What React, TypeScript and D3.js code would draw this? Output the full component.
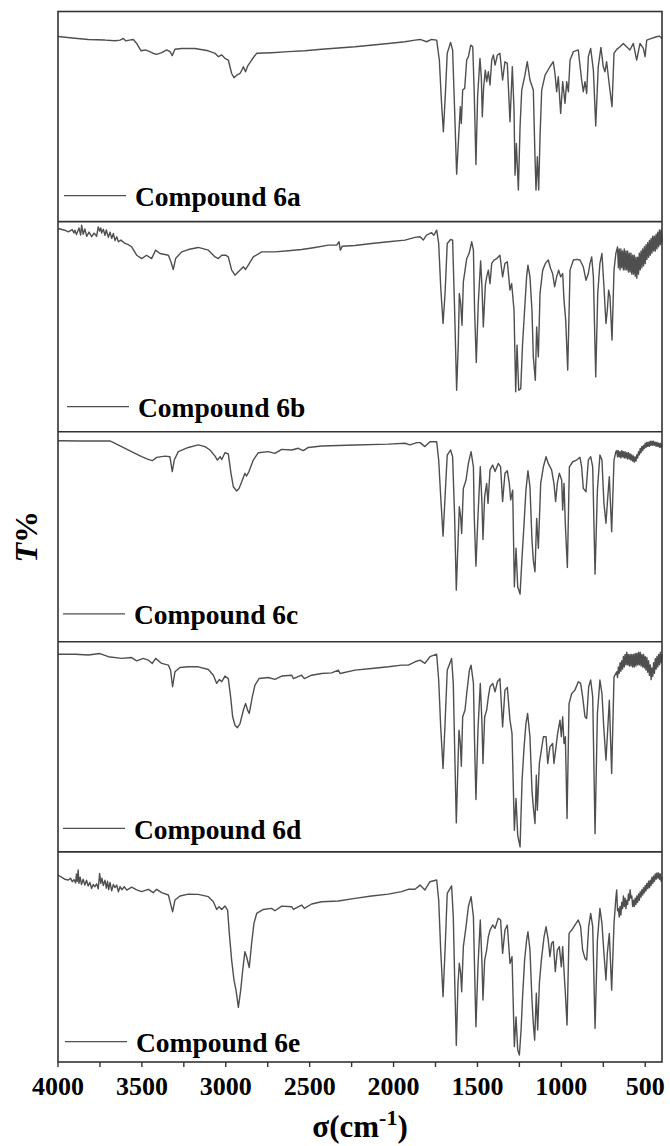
import { line, scaleLinear } from "d3";

type Point = [number, number];

// x axis
const MAJOR_TICKS = [4000, 3500, 3000, 2500, 2000, 1500, 1000, 500];
const MINOR_TICKS = [3750, 3250, 2750, 2250, 1750, 1250, 750];
const COMPOUNDS = ["Compound 6a", "Compound 6b", "Compound 6c", "Compound 6d", "Compound 6e"];

// [wavenumber cm-1, T% inside its own panel]
const spectrum6a: Point[] = [
  [4000, 88.1], [3900, 87.3], [3819, 86.7], [3720, 86.4], [3660, 86.1], [3630, 86.4], [3611, 87.2], [3595, 86.0],
  [3575, 86.4], [3551, 86.7], [3531, 84.8], [3505, 81.3], [3480, 81.7], [3452, 80.9], [3430, 80.0], [3412, 79.6],
  [3382, 80.4], [3352, 81.7], [3332, 80.9], [3319, 79.0], [3303, 82.0], [3263, 82.4], [3184, 82.4], [3104, 81.3],
  [3064, 80.1], [3044, 78.5], [3024, 79.3], [3005, 77.7], [2985, 76.9], [2965, 70.5], [2951, 68.5], [2935, 69.7],
  [2915, 70.5], [2895, 73.7], [2882, 71.3], [2870, 74.0], [2846, 76.9], [2816, 80.1], [2727, 80.4], [2627, 80.9],
  [2528, 81.3], [2429, 82.0], [2230, 83.2], [2031, 84.8], [1932, 85.6], [1872, 86.4], [1842, 86.7], [1803, 85.6],
  [1773, 86.7], [1743, 86.4], [1727, 76.9], [1715, 57.8], [1703, 42.8], [1691, 61.0], [1680, 80.1], [1660, 85.3],
  [1648, 81.7], [1636, 53.1], [1624, 22.6], [1612, 40.4], [1602, 54.7], [1596, 46.7], [1588, 62.6], [1576, 63.4],
  [1564, 76.9], [1554, 78.5], [1540, 84.0], [1528, 83.2], [1519, 61.0], [1509, 27.2], [1499, 59.4], [1485, 77.7],
  [1477, 68.9], [1471, 49.9], [1463, 64.2], [1453, 72.1], [1445, 66.6], [1435, 71.3], [1425, 65.0], [1415, 76.9],
  [1405, 79.3], [1395, 74.5], [1381, 79.3], [1366, 80.1], [1350, 67.4], [1336, 76.1], [1322, 75.3], [1306, 47.5],
  [1292, 73.7], [1282, 53.1], [1276, 22.1], [1268, 37.2], [1256, 15.0], [1246, 45.1], [1236, 62.6], [1217, 69.7],
  [1203, 76.1], [1187, 67.4], [1167, 62.6], [1157, 30.9], [1151, 15.0], [1143, 30.9], [1135, 15.0], [1127, 40.4],
  [1117, 62.6], [1097, 69.7], [1068, 73.7], [1048, 76.1], [1038, 70.5], [1028, 61.8], [1018, 69.0], [1004, 51.5],
  [992, 66.6], [978, 56.3], [968, 66.6], [958, 61.8], [948, 76.9], [928, 80.9], [899, 81.7], [879, 67.4],
  [869, 61.8], [859, 66.6], [849, 61.0], [839, 78.5], [825, 82.4], [809, 72.1], [795, 45.5], [780, 73.7],
  [764, 82.9], [750, 73.7], [740, 71.3], [730, 76.1], [714, 65.0], [698, 54.7], [686, 80.1], [670, 82.0],
  [650, 83.2], [631, 84.8], [611, 83.2], [591, 81.7], [571, 84.8], [551, 76.9], [531, 84.8], [511, 82.4],
  [501, 78.5], [491, 86.4], [462, 87.2], [432, 88.0], [416, 88.3], [400, 87.2],
];

const spectrum6b: Point[] = [
  [4000, 96.7], [3960, 95.9], [3938, 95.1], [3915, 96.2], [3905, 94.6], [3899, 95.9], [3890, 93.8], [3875, 97.0],
  [3865, 93.6], [3859, 98.3], [3850, 94.0], [3840, 96.5], [3829, 93.0], [3815, 95.0], [3799, 92.8], [3785, 94.5],
  [3770, 93.0], [3760, 97.5], [3752, 95.5], [3745, 97.0], [3740, 94.6], [3730, 96.4], [3720, 93.5], [3712, 96.0],
  [3700, 92.5], [3690, 95.0], [3680, 92.0], [3670, 94.3], [3660, 91.0], [3650, 92.8], [3640, 90.4], [3625, 91.2],
  [3601, 89.6], [3580, 89.0], [3561, 88.0], [3531, 84.0], [3501, 82.4], [3472, 84.0], [3442, 82.4], [3418, 86.4],
  [3392, 84.8], [3342, 84.0], [3327, 80.9], [3313, 77.2], [3299, 82.4], [3263, 85.6], [3223, 86.7], [3164, 87.7],
  [3104, 86.4], [3064, 83.2], [3044, 82.4], [3024, 84.0], [3001, 84.0], [2985, 83.2], [2965, 76.9], [2945, 74.5],
  [2925, 76.1], [2895, 78.5], [2882, 77.2], [2866, 79.3], [2836, 83.2], [2786, 85.6], [2707, 85.6], [2627, 86.1],
  [2548, 86.7], [2468, 87.7], [2389, 88.8], [2339, 88.8], [2325, 90.4], [2317, 86.4], [2305, 88.3], [2230, 88.6],
  [2131, 89.6], [2031, 90.4], [1932, 91.2], [1872, 92.5], [1842, 92.8], [1823, 91.2], [1803, 93.6], [1773, 94.7],
  [1760, 93.5], [1743, 95.9], [1731, 89.6], [1719, 68.9], [1705, 51.5], [1693, 65.8], [1680, 89.6], [1660, 91.5],
  [1648, 91.2], [1636, 57.8], [1624, 19.7], [1614, 42.0], [1608, 65.8], [1600, 61.0], [1592, 50.7], [1584, 71.3],
  [1564, 82.4], [1550, 84.8], [1534, 90.4], [1524, 86.4], [1517, 57.8], [1507, 32.9], [1495, 61.0], [1481, 81.3],
  [1473, 69.0], [1465, 49.9], [1453, 69.7], [1445, 73.7], [1435, 76.9], [1425, 70.5], [1415, 80.1], [1401, 81.7],
  [1385, 82.4], [1366, 84.0], [1350, 73.7], [1336, 80.1], [1322, 80.9], [1306, 67.4], [1296, 70.5], [1282, 57.8],
  [1272, 19.0], [1264, 41.2], [1254, 19.7], [1242, 20.5], [1231, 42.0], [1219, 57.8], [1207, 73.7], [1199, 79.3],
  [1187, 73.7], [1175, 57.8], [1167, 35.6], [1155, 24.5], [1147, 49.9], [1137, 35.6], [1127, 65.8], [1111, 76.9],
  [1095, 80.1], [1078, 81.7], [1064, 77.7], [1052, 75.3], [1040, 69.0], [1028, 73.7], [1016, 76.9], [1004, 73.7],
  [992, 75.3], [984, 62.6], [974, 53.1], [962, 29.3], [948, 76.9], [928, 81.7], [909, 82.0], [889, 81.7],
  [869, 78.5], [853, 72.1], [839, 75.3], [829, 80.1], [819, 83.2], [809, 73.7], [795, 26.1], [783, 65.8],
  [770, 80.1], [758, 84.8], [746, 69.0], [734, 51.5], [726, 57.8], [718, 67.4], [710, 64.2], [698, 43.6],
  [686, 76.9], [675, 84.8], [665, 88], [660, 78], [655, 87], [650, 77], [645, 87], [640, 78], [635, 86], [630, 77],
  [625, 87], [620, 77], [615, 86], [610, 77], [605, 86], [600, 76], [595, 85], [590, 76], [585, 85], [580, 75],
  [575, 84], [570, 75], [565, 84], [560, 74], [555, 83], [550, 73], [545, 83], [540, 75], [535, 85], [530, 77],
  [525, 86], [520, 78], [515, 87], [510, 79], [505, 88], [500, 80], [495, 89], [490, 82], [485, 90], [480, 83],
  [475, 91], [470, 84], [465, 92], [460, 85], [455, 93], [450, 86], [445, 93], [440, 86], [435, 94], [430, 87],
  [425, 95], [420, 88], [415, 96], [410, 89], [405, 96], [400, 90],
];

const spectrum6c: Point[] = [
  [4000, 95.7], [3859, 95.6], [3690, 95.6], [3621, 92.9], [3541, 89.7], [3501, 88.1], [3462, 86.8], [3438, 86.2],
  [3412, 87.8], [3362, 88.4], [3333, 88.1], [3319, 81.0], [3307, 86.5], [3283, 90.5], [3223, 92.5], [3164, 93.7],
  [3124, 92.9], [3094, 91.3], [3064, 88.4], [3050, 86.5], [3034, 88.1], [3024, 86.8], [3005, 90.0], [2985, 89.4],
  [2969, 80.2], [2955, 73.8], [2935, 71.8], [2921, 73.0], [2905, 76.2], [2886, 80.2], [2876, 78.9], [2862, 81.0],
  [2836, 86.5], [2806, 90.0], [2747, 90.5], [2707, 89.7], [2667, 91.6], [2607, 91.3], [2568, 92.1], [2538, 91.0],
  [2508, 92.5], [2429, 93.2], [2230, 93.7], [2031, 94.1], [1932, 94.5], [1902, 93.7], [1862, 94.8], [1842, 94.8],
  [1813, 92.9], [1783, 95.2], [1743, 95.2], [1731, 86.5], [1719, 69.1], [1705, 50.3], [1693, 69.1], [1680, 88.9],
  [1660, 91.3], [1648, 88.1], [1636, 59.5], [1626, 24.6], [1616, 46.8], [1608, 64.3], [1600, 59.5], [1594, 51.6],
  [1584, 73.0], [1568, 77.0], [1554, 84.9], [1538, 90.5], [1524, 83.3], [1519, 59.5], [1509, 36.0], [1497, 59.5],
  [1483, 83.3], [1473, 65.9], [1467, 48.7], [1457, 69.1], [1445, 75.4], [1437, 65.9], [1425, 81.8], [1409, 84.1],
  [1395, 81.0], [1376, 84.9], [1362, 83.3], [1350, 66.7], [1336, 80.2], [1322, 81.4], [1310, 75.4], [1302, 67.5],
  [1290, 72.2], [1280, 26.2], [1270, 44.5], [1260, 26.2], [1246, 22.7], [1234, 40.5], [1222, 56.4], [1211, 72.2],
  [1199, 81.4], [1187, 73.8], [1175, 48.4], [1167, 38.9], [1157, 33.3], [1147, 58.7], [1137, 44.5], [1123, 75.4],
  [1107, 83.3], [1091, 88.1], [1078, 84.9], [1058, 81.8], [1044, 75.4], [1034, 66.7], [1024, 75.4], [1012, 80.2],
  [998, 77.0], [992, 62.7], [984, 75.4], [976, 55.6], [964, 35.4], [952, 83.3], [932, 85.7], [909, 86.5],
  [889, 87.8], [879, 83.3], [869, 73.0], [853, 71.4], [839, 86.5], [825, 88.1], [813, 83.3], [799, 32.2],
  [785, 72.2], [770, 88.9], [758, 86.5], [746, 65.9], [734, 56.4], [726, 65.9], [714, 78.6], [700, 52.4],
  [686, 86.5], [675, 90.5], [670, 91], [665, 88], [660, 91], [655, 88], [650, 90.5], [645, 87.5], [640, 91],
  [635, 88], [630, 90.5], [625, 87.5], [620, 90.5], [615, 87.5], [610, 90], [605, 87], [600, 90], [595, 87],
  [590, 89.5], [585, 86.5], [580, 89], [575, 86], [570, 88.5], [565, 85.5], [560, 88], [555, 86], [550, 89],
  [545, 87.5], [540, 90.5], [535, 89], [530, 92], [525, 90], [520, 93], [515, 91], [510, 93.5], [505, 92],
  [500, 94.5], [495, 92.5], [490, 95], [485, 93], [480, 95], [475, 93], [470, 95.5], [465, 93.5], [460, 95.5],
  [455, 93.5], [450, 95.5], [445, 93.5], [440, 95], [435, 93], [430, 95], [425, 93], [420, 94.5], [415, 92.5],
  [410, 94.5], [405, 92.5], [400, 94],
];

const spectrum6d: Point[] = [
  [4000, 94.1], [3899, 94.1], [3819, 93.7], [3750, 94.4], [3700, 92.9], [3621, 92.1], [3561, 92.5], [3531, 90.9],
  [3491, 92.1], [3462, 91.3], [3438, 89.7], [3418, 92.1], [3382, 89.7], [3342, 88.9], [3329, 86.5], [3317, 78.6],
  [3303, 85.7], [3273, 87.8], [3223, 88.1], [3164, 88.1], [3104, 86.8], [3074, 84.1], [3054, 80.2], [3038, 82.1],
  [3024, 81.0], [3005, 83.7], [2985, 82.5], [2971, 73.8], [2959, 64.3], [2945, 60.3], [2931, 59.1], [2915, 61.1],
  [2895, 67.5], [2882, 70.6], [2870, 67.5], [2860, 65.9], [2842, 73.8], [2826, 79.4], [2802, 82.5], [2747, 83.0],
  [2707, 82.1], [2667, 83.7], [2607, 84.1], [2597, 82.5], [2548, 84.1], [2532, 82.5], [2488, 84.1], [2429, 84.9],
  [2369, 85.2], [2329, 86.5], [2319, 84.9], [2230, 86.5], [2131, 87.3], [2031, 88.1], [1952, 88.9], [1912, 88.9],
  [1872, 90.5], [1842, 91.3], [1813, 89.7], [1783, 92.9], [1743, 94.1], [1731, 81.8], [1719, 59.5], [1705, 39.7],
  [1693, 61.1], [1680, 86.5], [1654, 92.1], [1644, 80.2], [1636, 50.0], [1626, 13.8], [1616, 42.1], [1610, 57.9],
  [1602, 51.6], [1596, 40.8], [1588, 64.3], [1574, 67.5], [1564, 75.4], [1548, 86.5], [1538, 88.9], [1524, 80.2],
  [1517, 51.6], [1509, 24.9], [1497, 57.9], [1483, 80.2], [1473, 61.1], [1467, 42.1], [1457, 64.3], [1445, 67.5],
  [1435, 73.8], [1425, 78.6], [1409, 80.2], [1395, 76.2], [1381, 81.0], [1366, 82.5], [1350, 59.5], [1336, 77.0],
  [1322, 78.3], [1306, 62.7], [1294, 56.4], [1280, 10.3], [1270, 25.4], [1260, 7.9], [1246, 2.4], [1234, 34.1],
  [1222, 50.0], [1211, 61.1], [1201, 65.9], [1187, 54.8], [1175, 29.4], [1167, 21.4], [1157, 13.5], [1149, 36.5],
  [1143, 19.8], [1131, 42.1], [1119, 48.4], [1107, 54.8], [1091, 54.8], [1081, 42.1], [1068, 50.0], [1052, 51.6],
  [1044, 42.1], [1034, 48.4], [1022, 56.4], [1008, 62.7], [1000, 54.8], [992, 64.3], [984, 51.6], [976, 54.8],
  [966, 15.9], [954, 70.6], [938, 75.4], [919, 77.0], [899, 81.0], [885, 80.2], [873, 73.8], [859, 64.3],
  [849, 63.5], [837, 78.6], [825, 81.8], [813, 73.8], [799, 8.7], [785, 65.9], [770, 81.8], [758, 75.4],
  [746, 58.0], [734, 43.7], [726, 54.8], [714, 72.2], [700, 37.3], [686, 83.3], [670, 85.7], [665, 83], [660, 88],
  [655, 85], [650, 90], [645, 86], [640, 91], [635, 87], [630, 93], [625, 88], [620, 94], [615, 89], [610, 95],
  [605, 89], [600, 94], [595, 88.5], [590, 94], [585, 88.5], [580, 94], [575, 88], [570, 94], [565, 88],
  [560, 94.5], [555, 88.5], [550, 94.5], [545, 89], [540, 95], [535, 89], [530, 95], [525, 88.5], [520, 94],
  [515, 88], [510, 94], [505, 87.5], [500, 93], [495, 86.5], [490, 92.5], [485, 85.5], [480, 91], [475, 84],
  [470, 89], [465, 82], [460, 87.5], [455, 83.5], [450, 90], [445, 85], [440, 92], [435, 87], [430, 93],
  [425, 88], [420, 94], [415, 89], [410, 95], [405, 90], [400, 94],
];

const spectrum6e: Point[] = [
  [4000, 89.0], [3960, 87.0], [3938, 86.6], [3925, 87.5], [3915, 85.8], [3905, 86.8], [3895, 85.2], [3890, 89.5],
  [3885, 86.0], [3880, 91.4], [3875, 85.0], [3868, 88.0], [3860, 84.5], [3850, 87.0], [3840, 84.2], [3830, 86.5],
  [3820, 83.8], [3810, 85.5], [3800, 82.6], [3790, 84.5], [3780, 83.4], [3770, 84.8], [3760, 82.4], [3752, 89.8],
  [3745, 85.0], [3738, 87.5], [3730, 84.0], [3720, 86.5], [3712, 82.8], [3705, 86.0], [3698, 82.0], [3690, 85.5],
  [3680, 81.5], [3670, 84.5], [3660, 83.0], [3650, 84.2], [3640, 81.0], [3630, 83.5], [3620, 82.0], [3605, 83.4],
  [3590, 81.8], [3561, 83.2], [3531, 81.9], [3501, 81.1], [3462, 82.2], [3432, 80.6], [3412, 82.2], [3382, 80.6],
  [3342, 79.5], [3327, 74.7], [3317, 71.5], [3303, 77.1], [3273, 79.0], [3223, 79.9], [3164, 79.8], [3104, 78.7],
  [3074, 76.3], [3054, 72.6], [3040, 73.9], [3024, 72.6], [3005, 74.2], [2989, 72.3], [2979, 61.2], [2965, 48.5],
  [2951, 39.0], [2939, 34.2], [2925, 26.0], [2911, 34.2], [2899, 43.8], [2886, 52.5], [2876, 50.1], [2860, 45.0],
  [2846, 56.5], [2832, 66.0], [2816, 70.7], [2776, 72.6], [2727, 73.1], [2707, 72.0], [2667, 74.2], [2607, 73.9],
  [2597, 72.6], [2548, 74.7], [2532, 73.1], [2488, 75.2], [2429, 76.3], [2329, 76.6], [2230, 77.9], [2131, 79.0],
  [2031, 79.9], [1952, 81.1], [1912, 82.2], [1872, 82.2], [1842, 84.2], [1813, 81.9], [1783, 85.8], [1743, 86.6],
  [1731, 77.1], [1719, 53.3], [1705, 31.1], [1693, 53.3], [1680, 80.3], [1654, 83.8], [1644, 69.2], [1636, 40.6],
  [1626, 8.0], [1616, 37.4], [1608, 47.0], [1600, 42.2], [1594, 33.4], [1584, 54.9], [1568, 64.4], [1554, 73.9],
  [1538, 78.7], [1524, 69.2], [1517, 43.8], [1509, 16.8], [1497, 45.3], [1483, 67.6], [1473, 46.9], [1467, 29.5],
  [1457, 48.5], [1445, 53.3], [1435, 59.6], [1425, 62.8], [1409, 65.2], [1395, 63.6], [1376, 68.4], [1362, 67.6],
  [1350, 51.7], [1336, 62.8], [1322, 65.2], [1306, 46.9], [1294, 50.1], [1280, 7.3], [1270, 21.5], [1260, 5.7],
  [1250, 3.3], [1240, 15.2], [1231, 31.1], [1219, 48.5], [1207, 58.0], [1199, 62.0], [1187, 53.3], [1175, 29.5],
  [1167, 18.4], [1159, 10.4], [1149, 32.7], [1141, 15.2], [1131, 37.4], [1119, 48.5], [1103, 59.6], [1091, 64.4],
  [1078, 58.0], [1068, 50.1], [1058, 56.5], [1048, 57.3], [1036, 43.0], [1024, 53.3], [1012, 54.9], [1000, 45.3],
  [992, 54.9], [982, 40.6], [976, 32.7], [966, 17.6], [954, 61.2], [938, 62.8], [919, 65.2], [899, 67.6],
  [885, 64.4], [873, 53.3], [859, 49.3], [849, 48.5], [837, 64.4], [825, 70.7], [813, 64.4], [799, 16.0],
  [785, 58.0], [770, 73.1], [758, 66.0], [746, 51.7], [734, 39.0], [726, 51.7], [714, 61.2], [700, 34.2],
  [686, 66.0], [675, 78.0], [670, 81.9], [665, 72.0], [660, 73], [655, 69], [650, 74], [645, 70], [640, 76],
  [635, 73], [630, 79], [625, 74], [620, 78], [615, 73], [610, 77], [605, 75], [600, 80], [595, 77], [590, 82],
  [585, 78], [580, 79], [575, 74], [570, 77], [565, 74], [560, 78], [555, 75], [550, 79], [545, 76], [540, 80],
  [535, 77], [530, 81], [525, 78.5], [520, 82], [515, 79.5], [510, 83], [505, 80.5], [500, 84], [495, 81.5],
  [490, 85], [485, 82.5], [480, 86], [475, 83], [470, 86.5], [465, 84], [460, 88], [455, 85], [450, 88.5],
  [445, 86], [440, 89.5], [435, 87], [430, 90], [425, 87.5], [420, 90], [415, 87], [410, 89.5], [405, 86],
  [400, 88],
];

const SPECTRA = [spectrum6a, spectrum6b, spectrum6c, spectrum6d, spectrum6e];

const WIDTH = 670;
const HEIGHT = 1146;
const PLOT_LEFT = 58;
const PLOT_RIGHT = 662;
const PLOT_TOP = 11.5;
const PANEL_HEIGHT = 210.1;
const FRAME_COLOR = "#333333";
const LINE_COLOR = "#4f4f4f";
const SERIF = "'Liberation Serif', 'Times New Roman', serif";

// legend placement differs a little per panel in the source figure
const LEGEND_LIFT = [26, 25, 28, 23.6, 20.3];
const LEGEND_SHIFT = [0, 3, -1, -1, 1];

export default function App() {
  const xScale = scaleLinear().domain([4000, 400]).range([PLOT_LEFT, PLOT_RIGHT]);
  const plotBottom = PLOT_TOP + PANEL_HEIGHT * SPECTRA.length;

  return (
    <svg
      width={WIDTH}
      height={HEIGHT}
      viewBox={`0 0 ${WIDTH} ${HEIGHT}`}
      style={{ position: "absolute", left: 0, top: 0, background: "#fff" }}
    >
      {SPECTRA.map((points, index) => {
        const top = PLOT_TOP + PANEL_HEIGHT * index;
        const bottom = top + PANEL_HEIGHT;
        const yScale = scaleLinear().domain([0, 100]).range([bottom, top]);
        const path = line<Point>()
          .x((point) => xScale(point[0]))
          .y((point) => yScale(point[1]))(points);
        const legendY = bottom - LEGEND_LIFT[index];
        const legendX = PLOT_LEFT + 6 + LEGEND_SHIFT[index];

        return (
          <g key={COMPOUNDS[index]}>
            {path ? (
              <path d={path} fill="none" stroke={LINE_COLOR} strokeWidth={1.4} strokeLinejoin="round" />
            ) : null}
            <line x1={legendX} x2={legendX + 62} y1={legendY} y2={legendY} stroke={LINE_COLOR} strokeWidth={1.3} />
            <text
              x={legendX + 71}
              y={legendY + 10.3}
              fontFamily={SERIF}
              fontWeight="bold"
              fontSize={27.5}
              fill="#000"
            >
              {COMPOUNDS[index]}
            </text>
            {index > 0 ? (
              <line x1={PLOT_LEFT} x2={PLOT_RIGHT} y1={top} y2={top} stroke={FRAME_COLOR} strokeWidth={1.6} />
            ) : null}
          </g>
        );
      })}

      <rect
        x={PLOT_LEFT}
        y={PLOT_TOP}
        width={PLOT_RIGHT - PLOT_LEFT}
        height={plotBottom - PLOT_TOP}
        fill="none"
        stroke={FRAME_COLOR}
        strokeWidth={1.6}
      />

      {[...MAJOR_TICKS, ...MINOR_TICKS].map((tick) => (
        <line
          key={`tick-${tick}`}
          x1={xScale(tick)}
          x2={xScale(tick)}
          y1={plotBottom}
          y2={plotBottom + 5}
          stroke={FRAME_COLOR}
          strokeWidth={1.4}
        />
      ))}
      {MAJOR_TICKS.map((tick) => (
        <text
          key={`label-${tick}`}
          x={xScale(tick)}
          y={plotBottom + 33}
          textAnchor="middle"
          fontFamily={SERIF}
          fontWeight="bold"
          fontSize={26}
          fill="#000"
        >
          {tick}
        </text>
      ))}

      <text
        x={(PLOT_LEFT + PLOT_RIGHT) / 2}
        y={plotBottom + 75}
        textAnchor="middle"
        fontFamily={SERIF}
        fontWeight="bold"
        fontSize={31}
        fill="#000"
      >
        σ(cm
        <tspan fontSize={22} dy={-12}>
          -1
        </tspan>
        <tspan dy={12}>)</tspan>
      </text>

      <text
        transform={`translate(37, ${(PLOT_TOP + plotBottom) / 2}) rotate(-90)`}
        textAnchor="middle"
        fontFamily={SERIF}
        fontWeight="bold"
        fontSize={32}
        fill="#000"
      >
        <tspan fontStyle="italic">T</tspan>%
      </text>
    </svg>
  );
}
